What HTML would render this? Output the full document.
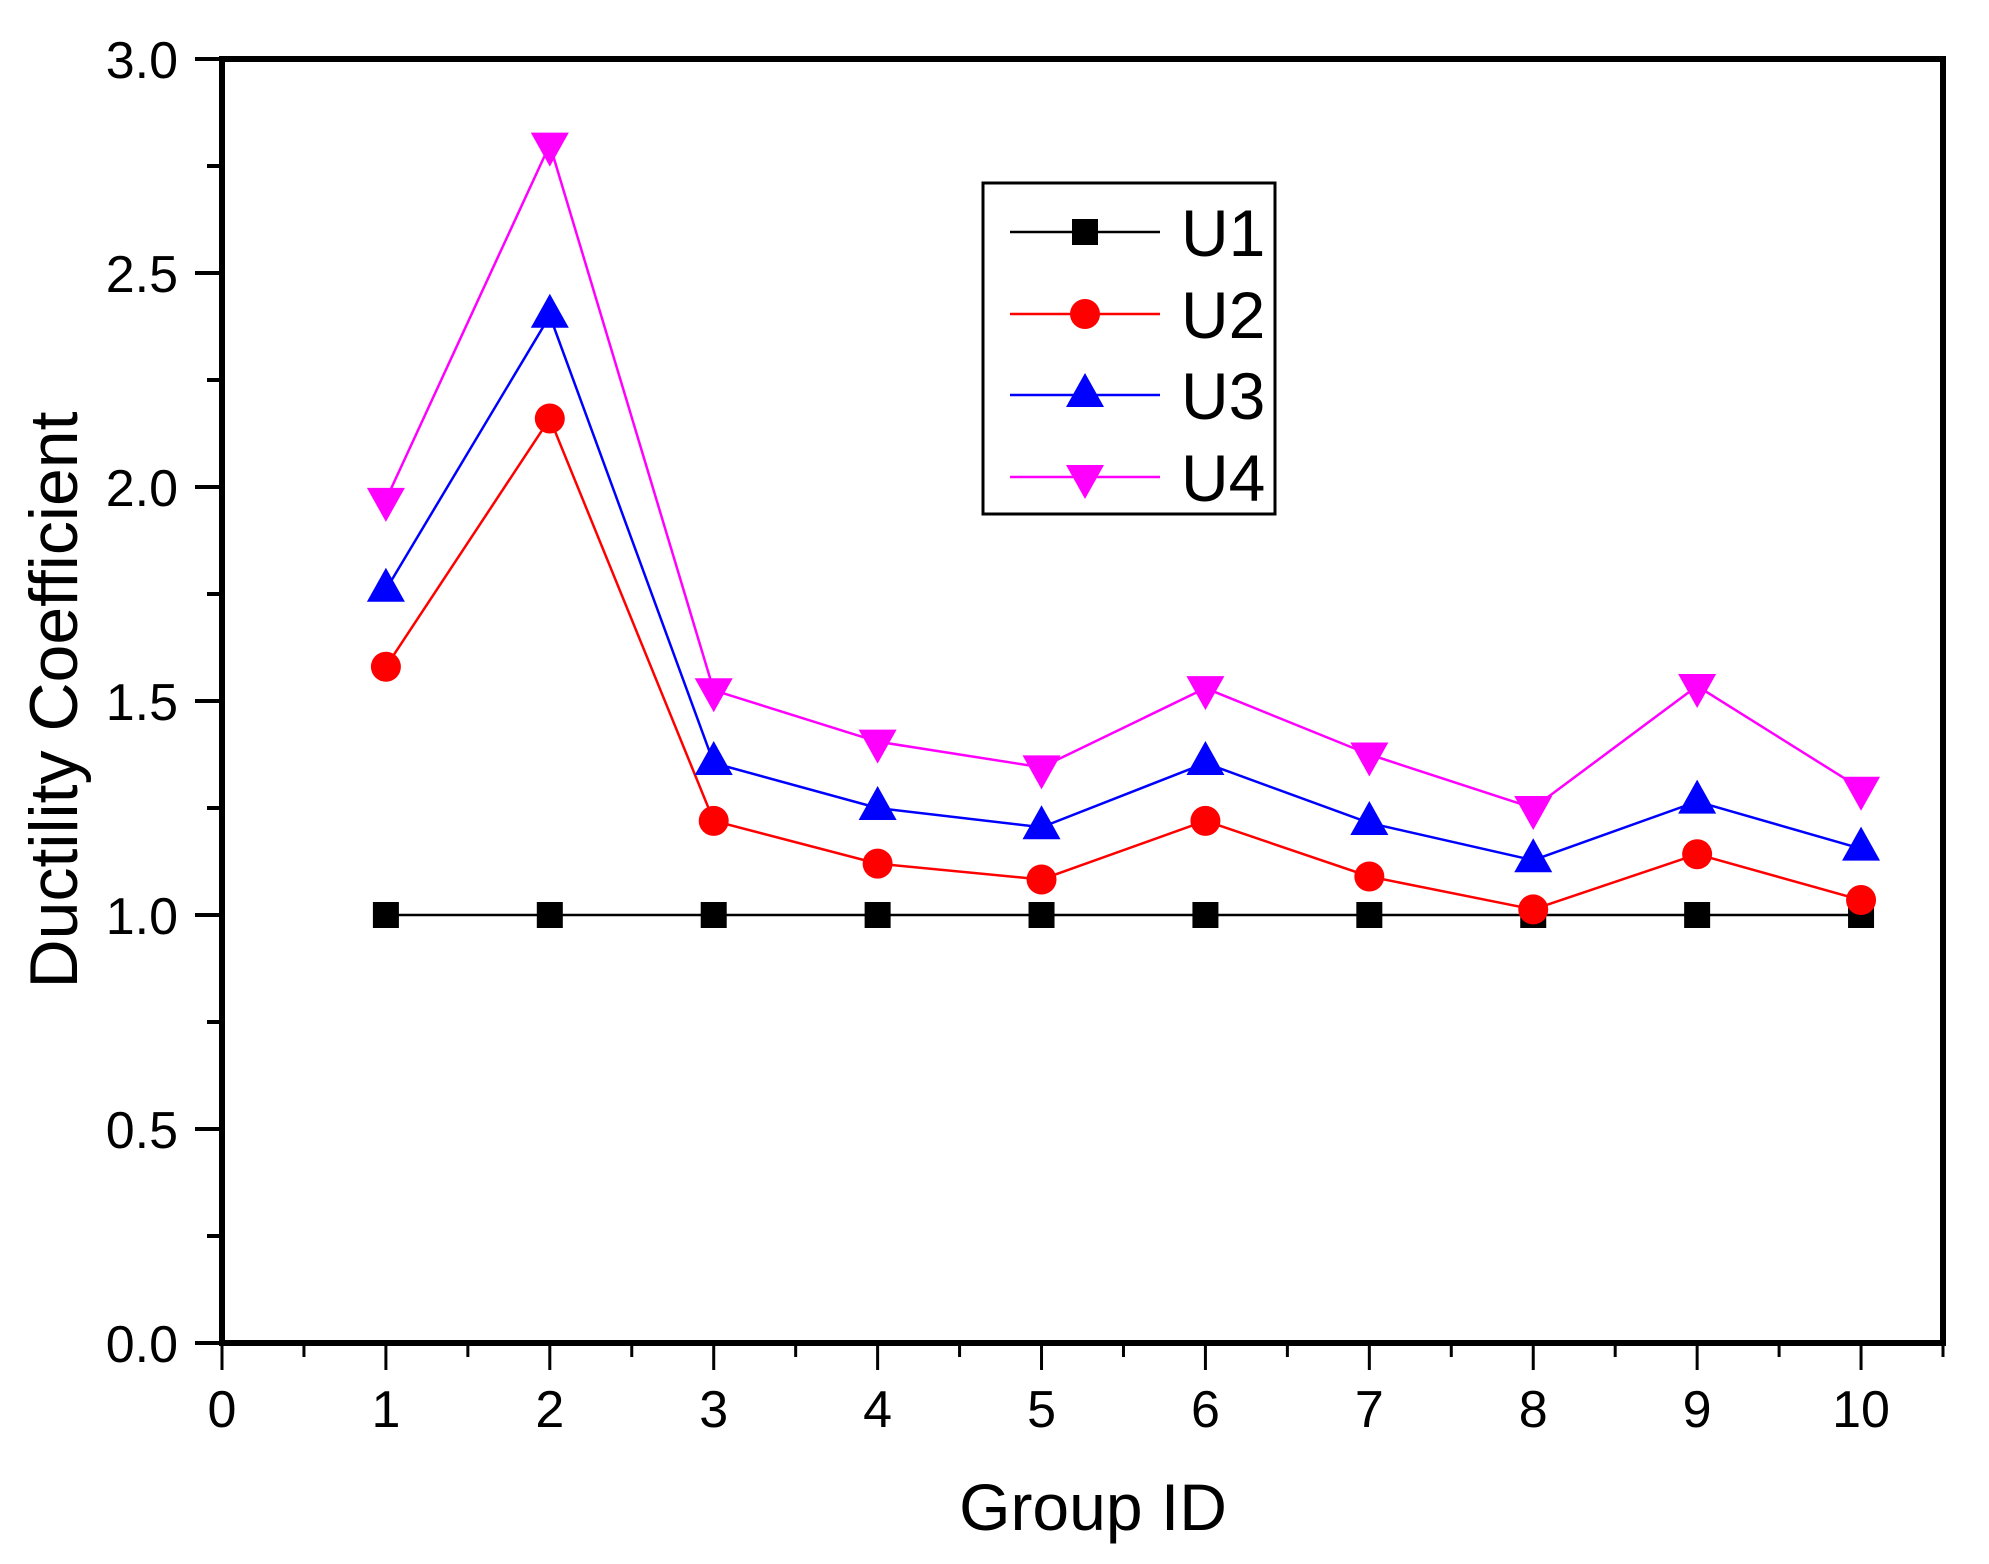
<!DOCTYPE html>
<html><head><meta charset="utf-8">
<style>
html,body{margin:0;padding:0;background:#fff;}
svg{display:block;font-family:"Liberation Sans",Arial,sans-serif;}
</style></head>
<body>
<svg id="chart" width="1989" height="1564" viewBox="0 0 1989 1564" xmlns="http://www.w3.org/2000/svg">
<rect width="1989" height="1564" fill="#fff"/>
<g id="grid"></g>
<g id="series"></g>
<g id="axes"></g>
<g id="legend"></g>
</svg>
<script>
const categories = [1,2,3,4,5,6,7,8,9,10];
const u1Values = [1.0,1.0,1.0,1.0,1.0,1.0,1.0,1.0,1.0,1.0];
const u2Values = [1.58,2.16,1.22,1.12,1.083,1.22,1.09,1.013,1.142,1.035];
const u3Values = [1.76,2.40,1.355,1.25,1.205,1.355,1.215,1.128,1.265,1.155];
const u4Values = [1.97,2.80,1.525,1.405,1.345,1.53,1.375,1.25,1.535,1.295];
const seriesNames = ["U1","U2","U3","U4"];
const xTickLabels = ["0","1","2","3","4","5","6","7","8","9","10"];
const yTickLabels = ["0.0","0.5","1.0","1.5","2.0","2.5","3.0"];

const NS = "http://www.w3.org/2000/svg";
const L = 222, R = 1943, T = 59, B = 1343;
const xMin = 0, xMax = 10.5, yMin = 0, yMax = 3;
function xs(v){ return L + (v - xMin) / (xMax - xMin) * (R - L); }
function ys(v){ return B - (v - yMin) / (yMax - yMin) * (B - T); }
function mk(tag, attrs, parent){
  const e = document.createElementNS(NS, tag);
  for (const k in attrs) e.setAttribute(k, attrs[k]);
  parent.appendChild(e);
  return e;
}
const axes = document.getElementById('axes');
const seriesG = document.getElementById('series');
const legendG = document.getElementById('legend');

const frame = mk('rect', {x:L, y:T, width:R-L, height:B-T, fill:'none', stroke:'#000', 'stroke-width':6}, axes);



for (let i = 0; i <= 21; i++) {
  const v = i * 0.5;
  const major = i % 2 === 0;
  const t = mk('line', {x1:xs(v), x2:xs(v), y1:B, y2:B + (major ? 27 : 14), stroke:'#000', 'stroke-width':3}, axes);
  
  
}
xTickLabels.forEach((lab, i) => {
  const t = mk('text', {x:xs(i), y:1427, 'font-size':52, 'text-anchor':'middle'}, axes);
  t.textContent = lab;
  
  
});
for (let i = 0; i <= 12; i++) {
  const v = i * 0.25;
  const major = i % 2 === 0;
  const t = mk('line', {x1:L - (major ? 27 : 15), x2:L, y1:ys(v), y2:ys(v), stroke:'#000', 'stroke-width':4}, axes);
  
  
}
yTickLabels.forEach((lab, i) => {
  const t = mk('text', {x:178, y:ys(i*0.5) + 19, 'font-size':52, 'text-anchor':'end'}, axes);
  t.textContent = lab;
  
  
});
const xt = mk('text', {x:1093, y:1530, 'font-size':66, 'text-anchor':'middle'}, axes);
xt.textContent = 'Group ID';


const yt = mk('text', {x:0, y:0, 'font-size':68, 'text-anchor':'middle', transform:'translate(77,700) rotate(-90)'}, axes);
yt.textContent = 'Ductility Coefficient';



const colors = ['#000000','#ff0000','#0000ff','#ff00ff'];
const allValues = [u1Values, u2Values, u3Values, u4Values];

function marker(kind, cx, cy, color, parent, scale){
  let e;
  const s = scale || 1;
  if (kind === 0) e = mk('rect', {x:cx-13*s, y:cy-13*s, width:26*s, height:26*s, fill:color}, parent);
  else if (kind === 1) e = mk('circle', {cx:cx, cy:cy, r:15*s, fill:color}, parent);
  else if (kind === 2) e = mk('polygon', {points:`${cx},${cy-22*s} ${cx-19*s},${cy+12*s} ${cx+19*s},${cy+12*s}`, fill:color}, parent);
  else e = mk('polygon', {points:`${cx},${cy+22*s} ${cx-19*s},${cy-12*s} ${cx+19*s},${cy-12*s}`, fill:color}, parent);
  return e;
}

allValues.forEach((vals, si) => {
  const g = mk('g', {}, seriesG);
  
  
  const pts = vals.map((v, i) => xs(categories[i]) + ',' + ys(v)).join(' ');
  const pl = mk('polyline', {points:pts, fill:'none', stroke:colors[si], 'stroke-width':2.5}, g);
  
  
  vals.forEach((v, i) => {
    const m = marker(si, xs(categories[i]), ys(v), colors[si], g);
    
    
  });
});

const lb = mk('rect', {x:983, y:183, width:292, height:331, fill:'#fff', stroke:'#000', 'stroke-width':3}, legendG);


const legY = [232, 314, 395, 477];
seriesNames.forEach((nm, si) => {
  const g = mk('g', {}, legendG);
  
  
  mk('line', {x1:1010, x2:1160, y1:legY[si], y2:legY[si], stroke:colors[si], 'stroke-width':2.5}, g);
  marker(si, 1085, legY[si], colors[si], g);
  const t = mk('text', {x:1181, y:legY[si] + 24, 'font-size':66}, g);
  t.textContent = nm;
});
</script>
</body></html>
